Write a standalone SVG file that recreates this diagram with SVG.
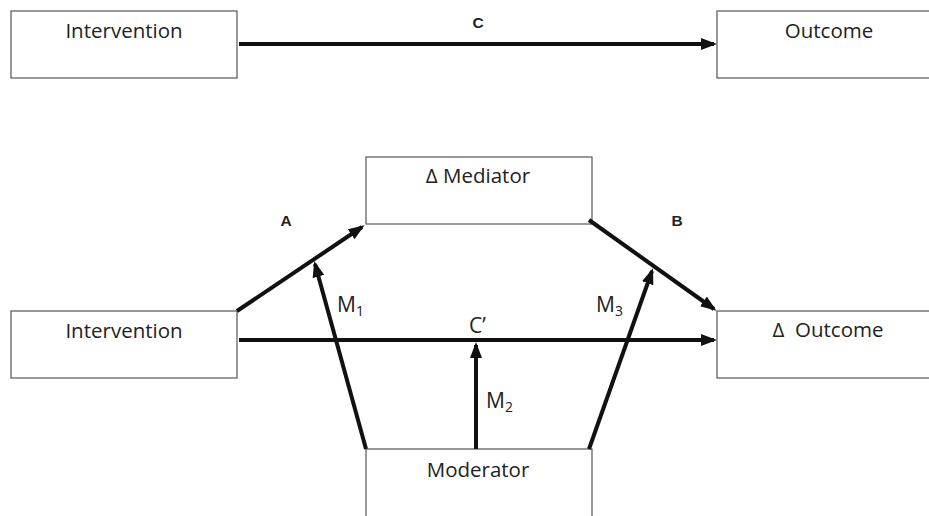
<svg xmlns="http://www.w3.org/2000/svg" width="929" height="516" viewBox="0 0 929 516">
<style>
.box{fill:#fff;stroke:#555;stroke-width:1.2}
.t{font-family:"Open Sans","Liberation Sans",sans-serif;font-size:20.5px;fill:#222;text-anchor:middle}
.lb{font-family:"Liberation Sans",Arial,sans-serif;font-size:15.5px;font-weight:bold;fill:#222;text-anchor:middle}
.ml{font-family:"Open Sans","Liberation Sans",sans-serif;font-size:21px;fill:#222}
.sub{font-size:14px}
.c{stroke:#111;stroke-width:4;fill:none}
</style>
<defs>
<marker id="ah" markerUnits="userSpaceOnUse" markerWidth="16" markerHeight="12" viewBox="0 0 16 12" refX="13" refY="6" orient="auto">
<path d="M0,0 L16,6 L0,12 z" fill="#111"/>
</marker>
</defs>
<g id="intervention-top"><rect class="box" x="11" y="11" width="226" height="67"/><text class="t" x="124" y="38">Intervention</text></g>
<g id="outcome-top"><rect class="box" x="717" y="11" width="240" height="67"/><text class="t" x="829" y="38">Outcome</text></g>
<g id="mediator"><rect class="box" x="366" y="157" width="226" height="67"/><text class="t" x="478" y="183">Δ Mediator</text></g>
<g id="intervention-bottom"><rect class="box" x="11" y="311" width="226" height="67"/><text class="t" x="124" y="338">Intervention</text></g>
<g id="outcome-bottom"><rect class="box" x="717" y="311" width="240" height="67"/><text class="t" x="828" y="337" xml:space="preserve">Δ  Outcome</text></g>
<g id="moderator"><rect class="box" x="366" y="449" width="226" height="80"/><text class="t" x="478" y="477">Moderator</text></g>
<g id="connectors">
<line class="c" x1="239" y1="44" x2="714" y2="44" marker-end="url(#ah)"/>
<line class="c" x1="237" y1="311" x2="362" y2="227" marker-end="url(#ah)"/>
<line class="c" x1="589" y1="220" x2="714" y2="309" marker-end="url(#ah)"/>
<line class="c" x1="239" y1="340" x2="714" y2="340" marker-end="url(#ah)"/>
<line class="c" x1="366" y1="449" x2="315" y2="264" marker-end="url(#ah)"/>
<line class="c" x1="476" y1="449" x2="476" y2="345" marker-end="url(#ah)"/>
<line class="c" x1="589" y1="449" x2="652" y2="271" marker-end="url(#ah)"/>
<text class="lb" x="478" y="28">C</text>
<text class="lb" x="286" y="226">A</text>
<text class="lb" x="677" y="226">B</text>
<text class="ml" x="337" y="312">M<tspan class="sub" dy="4">1</tspan></text>
<text class="ml" x="596" y="312">M<tspan class="sub" dy="4">3</tspan></text>
<text class="ml" x="486" y="408">M<tspan class="sub" dy="4">2</tspan></text>
<text class="ml" x="469" y="333">C’</text>
</g>
</svg>
